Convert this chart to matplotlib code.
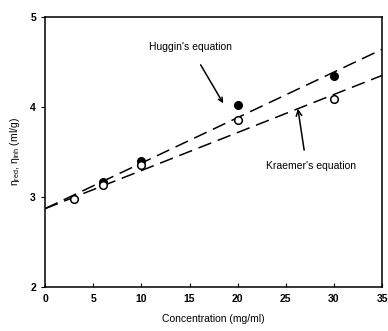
import matplotlib
matplotlib.use("Agg")
import matplotlib.pyplot as plt
import numpy as np

plt.rcParams['font.family'] = ['Liberation Sans', 'DejaVu Sans']
plt.rcParams['mathtext.fontset'] = 'custom'
plt.rcParams['mathtext.rm'] = 'Liberation Sans'
plt.rcParams['mathtext.it'] = 'Liberation Sans'

conc_open = [3, 6, 10, 20, 30]
eta_inh = [2.98, 3.13, 3.36, 3.86, 4.09]
conc_filled = [6, 10, 20, 30]
eta_red = [3.17, 3.40, 4.02, 4.34]

line_x = [0, 35]
huggins_line = [2.87, 4.64]
kraemer_line = [2.87, 4.35]

fig = plt.figure(figsize=(3.88, 3.31), dpi=100)
ax = fig.add_axes([0.116, 0.133, 0.869, 0.816])

ax.plot(line_x, huggins_line, color='black', lw=1.1, dashes=(9, 4.5))
ax.plot(line_x, kraemer_line, color='black', lw=1.1, dashes=(9, 4.5))
ax.plot(conc_filled, eta_red, 'o', color='black', ms=5.5, zorder=3)
ax.plot(conc_open, eta_inh, 'o', mfc='white', mec='black', mew=1.1, ms=5.5, zorder=4)

ax.set_xlim(0, 35)
ax.set_ylim(2, 5)
ax.set_xticks([0, 5, 10, 15, 20, 25, 30, 35])
ax.set_yticks([2, 3, 4, 5])
ax.tick_params(axis='x', direction='in', length=3, labelsize=7.5, pad=5)
ax.tick_params(axis='y', direction='out', length=3, labelsize=7.5)
for lab in ax.get_xticklabels() + ax.get_yticklabels():
    lab.set_fontweight('bold')
for s in ax.spines.values():
    s.set_linewidth(1.1)

ax.set_xlabel('Concentration (mg/ml)', fontsize=7.5, labelpad=7)
ax.set_ylabel(r'$\eta_{red}$, $\eta_{inh}$ (ml/g)', fontsize=7.5, labelpad=6)

ax.annotate("Huggin's equation", xy=(18.5, 4.04), xytext=(15.1, 4.66),
            fontsize=7.5, ha='center', va='center',
            arrowprops=dict(arrowstyle='->', color='black', lw=1.1,
                            shrinkA=8, shrinkB=0))
ax.annotate("", xy=(26.25, 3.98), xytext=(26.9, 3.52),
            arrowprops=dict(arrowstyle='->', color='black', lw=1.1,
                            shrinkA=0, shrinkB=0))
ax.text(27.6, 3.34, "Kraemer's equation", fontsize=7.5, ha='center', va='center')

fig.savefig('out.png', dpi=100)
